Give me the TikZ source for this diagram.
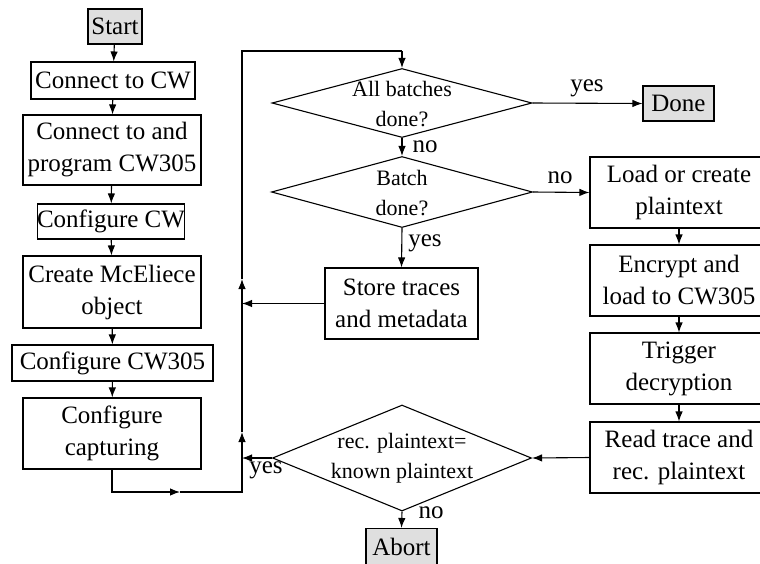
\documentclass[tikz,border=0pt]{standalone}
\usepackage{fontspec}
\setmainfont{Liberation Serif}
\usetikzlibrary{shapes.geometric,arrows.meta}
\tikzset{
  box/.style={draw,line width=1.1pt,align=center,inner sep=0pt,
    font=\fontsize{25}{32}\selectfont},
  term/.style={box,fill=gray!25},
  dec/.style={draw,line width=1.1pt,diamond,inner sep=0pt,aspect=2},
  dectext/.style={align=center,inner sep=0pt,font=\fontsize{22}{30}\selectfont},
  lbl/.style={inner sep=0pt,font=\fontsize{25}{30}\selectfont},
  flow/.style={line width=1.1pt},
}
\begin{document}
\begin{tikzpicture}[x=1pt,y=-1pt,>={Latex[length=10pt,width=7.5pt]}]
  \useasboundingbox (0,0) rectangle (760,563);
  \node[term,minimum width=54,minimum height=35] (start) at (115,26.5) {Start};
  \node[box,minimum width=164,minimum height=37] (cw) at (113,80.5) {Connect to CW};
  \node[box,minimum width=178,minimum height=70] (prog) at (112,150)
    {Connect to and\\program CW305};
  \node[box,minimum width=145,minimum height=35] (ccw) at (111,221.5) {Configure CW};
  \node[box,minimum width=178,minimum height=72] (mce) at (112,292)
    {Create McEliece\\object};
  \node[box,minimum width=201,minimum height=36] (c305) at (112.5,363) {Configure CW305};
  \node[box,minimum width=178,minimum height=71] (capt) at (112,433.5)
    {Configure\\capturing};

  \node[dec,minimum width=260,minimum height=69] (all) at (402,103) {};
  \node[dectext] at (402,104) {All batches\\done?};
  \node[dec,minimum width=261,minimum height=71] (batch) at (402,192) {};
  \node[dectext] at (402,193) {Batch\\done?};
  \node[dec,minimum width=259,minimum height=106] (cmp) at (402,458) {};
  \node[dectext] at (402,458) {rec. plaintext=\\known plaintext};

  \node[term,minimum width=71,minimum height=35] (done) at (678.5,103.5) {Done};
  \node[term,minimum width=71,minimum height=37] (abort) at (401.5,547) {Abort};
  \node[box,minimum width=153,minimum height=71] (store) at (401.5,303.5)
    {Store traces\\and metadata};
  \node[box,minimum width=178,minimum height=71] (load) at (679,192.5)
    {Load or create\\plaintext};
  \node[box,minimum width=178,minimum height=71] (enc) at (679,280.5)
    {Encrypt and\\load to CW305};
  \node[box,minimum width=178,minimum height=71] (trig) at (679,368.5)
    {Trigger\\decryption};
  \node[box,minimum width=178,minimum height=71] (read) at (679,457.5)
    {Read trace and\\rec. plaintext};

  \coordinate (t0) at (180,492);
  \coordinate (b1) at (242,492);
  \coordinate (j3) at (242,458);
  \coordinate (t1) at (242,432);
  \coordinate (j2) at (242,303.5);
  \coordinate (t2) at (242,279);
  \coordinate (b2) at (242,51);
  \coordinate (b3) at (402,51);

  \draw[flow,->] (start) -- (cw);
  \draw[flow,->] (cw) -- (prog);
  \draw[flow,->] (prog) -- (ccw);
  \draw[flow,->] (ccw) -- (mce);
  \draw[flow,->] (mce) -- (c305);
  \draw[flow,->] (c305) -- (capt);
  \draw[flow,->] (capt.south) |- (t0);
  \draw[flow] (t0) -- (b1) -- (j3);
  \draw[flow,->] (j3) -- (t1);
  \draw[flow] (t1) -- (j2);
  \draw[flow,->] (j2) -- (t2);
  \draw[flow] (t2) -- (b2) -- (b3);
  \draw[flow,->] (b3) -- (all.north);

  \draw[flow,->] (all.east) -- (done.west);
  \draw[flow,->] (all.south) -- (batch.north);
  \draw[flow,->] (batch.east) -- (load.west);
  \draw[flow,->] (batch.south) -- (store.north);
  \draw[flow,->] (store.west) -- (j2);
  \draw[flow,->] (load) -- (enc);
  \draw[flow,->] (enc) -- (trig);
  \draw[flow,->] (trig) -- (read);
  \draw[flow,->] (read.west) -- (cmp.east);
  \draw[flow,->] (cmp.west) -- (j3);
  \draw[flow,->] (cmp.south) -- (abort.north);

  \node[lbl] (l1) at (587,88) {yes};
  \node[lbl] (l2) at (425,147) {no};
  \node[lbl] (l3) at (560,178) {no};
  \node[lbl] (l4) at (425,243) {yes};
  \node[lbl] (l5) at (266,470) {yes};
  \node[lbl] (l6) at (431,513) {no};
\end{tikzpicture}
\end{document}
